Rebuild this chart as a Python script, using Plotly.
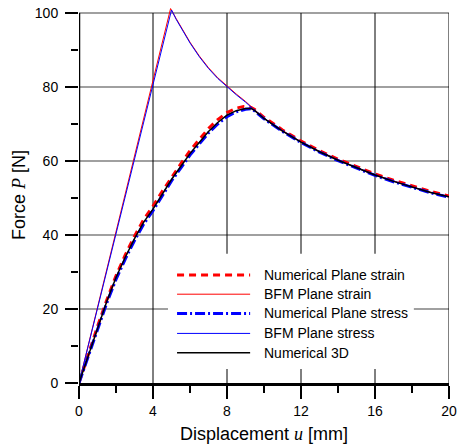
import plotly.graph_objects as go

# Displacement u [mm] / force P [N] samples for each model
x_num3d = [0, 0.5, 1, 1.5, 2, 2.5, 3, 3.5, 4, 4.5, 5, 5.5, 6, 6.5, 7, 7.5, 8, 8.5, 9, 9.3,
           9.5, 10, 10.5, 11, 12, 13, 14, 15, 16, 17, 18, 19, 20]
y_num3d = [0, 7.5, 15, 22, 28.5, 34, 39, 43.5, 47, 51, 55, 58.5, 62, 65, 68, 70.4, 72.4, 73.6, 74.2, 74.2,
           73.6, 71.5, 69.7, 68.1, 65.1, 62.5, 60.2, 58.1, 56.2, 54.5, 52.9, 51.5, 50.3]

x_num_strain = [0, 0.5, 1, 1.5, 2, 2.5, 3, 3.5, 4, 4.5, 5, 5.5, 6, 6.5, 7, 7.5, 8, 8.5, 8.9, 9.3,
                9.5, 10, 10.5, 11, 12, 13, 14, 15, 16, 17, 18, 19, 20]
y_num_strain = [0, 7.7, 15.3, 22.4, 29, 34.6, 39.7, 44.2, 47.8, 51.8, 55.6, 59.2, 62.8, 65.9, 68.8, 71.2, 73.1, 74.3, 74.7, 74.5,
                73.9, 71.8, 70.0, 68.4, 65.4, 62.8, 60.5, 58.4, 56.5, 54.8, 53.2, 51.8, 50.5]

x_num_stress = [0, 0.5, 1, 1.5, 2, 2.5, 3, 3.5, 4, 4.5, 5, 5.5, 6, 6.5, 7, 7.5, 8, 8.5, 9, 9.3,
                9.5, 10, 10.5, 11, 12, 13, 14, 15, 16, 17, 18, 19, 20]
y_num_stress = [0, 7.3, 14.7, 21.6, 28.0, 33.5, 38.5, 43.0, 46.6, 50.6, 54.6, 58.1, 61.6, 64.6, 67.6, 70.0, 72.0, 73.3, 74.0, 74.1,
                73.5, 71.4, 69.6, 68.0, 65.0, 62.4, 60.1, 58.0, 56.1, 54.4, 52.8, 51.4, 50.2]

x_bfm_strain = [0, 4.95, 5.25, 5.5, 6, 6.5, 7, 7.5, 8, 8.5, 9, 9.3,
                9.5, 10, 10.5, 11, 12, 13, 14, 15, 16, 17, 18, 19, 20]
y_bfm_strain = [0, 101.2, 98.5, 96.3, 92.1, 88.4, 85.2, 82.5, 80.2, 78.1, 76.1, 74.7,
                73.7, 71.6, 69.8, 68.2, 65.2, 62.6, 60.3, 58.2, 56.3, 54.6, 53.0, 51.6, 50.4]

x_bfm_stress = [0, 5.0, 5.25, 5.5, 6, 6.5, 7, 7.5, 8, 8.5, 9, 9.3,
                9.5, 10, 10.5, 11, 12, 13, 14, 15, 16, 17, 18, 19, 20]
y_bfm_stress = [0, 100.8, 98.3, 96.1, 91.9, 88.2, 85.0, 82.3, 80.0, 77.9, 75.9, 74.6,
                73.6, 71.5, 69.7, 68.1, 65.1, 62.5, 60.2, 58.1, 56.2, 54.5, 52.9, 51.5, 50.3]

x_ticks = [0, 4, 8, 12, 16, 20]
y_ticks = [0, 20, 40, 60, 80, 100]

legend_labels = ["Numerical Plane strain", "BFM Plane strain", "Numerical Plane stress",
                 "BFM Plane stress", "Numerical 3D"]

# line styles: (colour, width, dash)
styles = [
    ("#ff0000", 3, "7px,5px"),
    ("#ff0000", 1, "solid"),
    ("#0000ff", 3, "10px,3px,2px,3px"),
    ("#0000ff", 1, "solid"),
    ("#000000", 1.5, "solid"),
]

series = [
    (x_num_strain, y_num_strain),
    (x_bfm_strain, y_bfm_strain),
    (x_num_stress, y_num_stress),
    (x_bfm_stress, y_bfm_stress),
    (x_num3d, y_num3d),
]

fig = go.Figure()
for (xs, ys), (col, w, dash), name in zip(series, styles, legend_labels):
    fig.add_trace(go.Scatter(x=xs, y=ys, mode="lines", name=name,
                             line=dict(color=col, width=w, dash=dash),
                             showlegend=False))

shapes = []
# horizontal grid (grey) and vertical grid (black), limited to the 0-100 frame
for yv in y_ticks[1:]:
    shapes.append(dict(type="line", xref="x", yref="y", x0=0, x1=20, y0=yv, y1=yv,
                       line=dict(color="#808080", width=1.5), layer="below"))
for xv in x_ticks[1:]:
    shapes.append(dict(type="line", xref="x", yref="y", x0=xv, x1=xv, y0=0, y1=100,
                       line=dict(color="#000000", width=1), layer="below"))
# left axis line
shapes.append(dict(type="line", xref="x", yref="y", x0=0, x1=0, y0=0, y1=100,
                   line=dict(color="#000000", width=2.5), layer="above"))

# legend panel
shapes.append(dict(type="rect", xref="x", yref="y", x0=4.81, x1=18.1, y0=3.8, y1=34.9,
                   fillcolor="white", line=dict(width=0), layer="below"))
row_y = [29.2, 24.0, 18.8, 13.4, 8.2]
annotations = []
for ry, (col, w, dash), name in zip(row_y, styles, legend_labels):
    shapes.append(dict(type="line", xref="x", yref="y", x0=5.3, x1=9.25, y0=ry, y1=ry,
                       line=dict(color=col, width=w, dash=dash), layer="above"))
    annotations.append(dict(x=9.9, y=ry, xref="x", yref="y", text=name, showarrow=False,
                            xanchor="left", yanchor="middle",
                            font=dict(family="Arial, Liberation Sans", size=14, color="#000")))

fig.update_layout(
    width=457, height=445,
    margin=dict(l=79, r=8, t=7, b=62),
    paper_bgcolor="white", plot_bgcolor="white",
    shapes=shapes, annotations=annotations,
    font=dict(family="Arial, Liberation Sans", size=14, color="#000"),
    xaxis=dict(
        range=[0, 20], tickvals=x_ticks, showgrid=False, zeroline=False, automargin=False,
        showline=True, linecolor="#000", linewidth=2.5,
        ticks="outside", ticklen=13, tickwidth=2, tickcolor="#000",
        minor=dict(dtick=2, tick0=0, ticks="outside", ticklen=7, tickwidth=2, tickcolor="#000", showgrid=False),
        tickfont=dict(size=14),
        title=dict(text='Displacement <span style="font-family:Liberation Serif"><i>u</i></span> [mm]',
                   font=dict(size=18), standoff=10),
    ),
    yaxis=dict(
        range=[0, 101.62], tickvals=y_ticks, showgrid=False, zeroline=False, showline=False, automargin=False,
        ticks="outside", ticklen=13, tickwidth=2, tickcolor="#000", ticklabelstandoff=4,
        minor=dict(dtick=10, tick0=0, ticks="outside", ticklen=7, tickwidth=2, tickcolor="#000", showgrid=False),
        tickfont=dict(size=14),
        title=dict(text='Force <span style="font-family:Liberation Serif"><i>P</i></span> [N]',
                   font=dict(size=18), standoff=4),
    ),
)

fig.write_html("out.html")
